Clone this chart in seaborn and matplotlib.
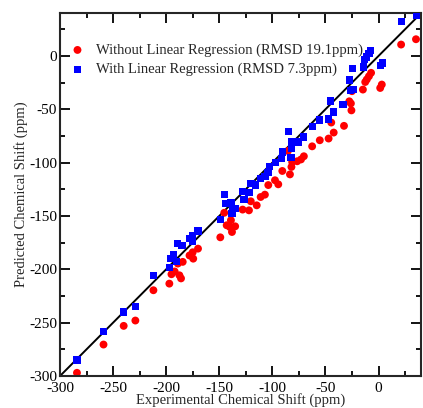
import numpy as np
import pandas as pd
import matplotlib
matplotlib.use("Agg")
import matplotlib.pyplot as plt
import seaborn as sns

# ---------------------------------------------------------------
# dati (ppm)
# ---------------------------------------------------------------
exp_without = [-284, -259, -240, -229, -212, -197, -195, -192, -187.5, -186,
               -189, -184.4, -178, -175, -174.5, -170, -149, -145.3, -139, -143,
               -140, -135, -138, -128, -122, -120.3, -114.7, -111, -107, -103.8,
               -97.5, -94.4, -85.3, -81.3, -76.6, -73, -70.3, -82, -90.6, -83.4,
               -62.5, -55.3, -47, -42.2, -44.5, -32.5, -27.5, -26, -25.5, -25,
               -14.7, -12.5, -11, -9, -7, 1.6, 3.1, 21.3, 35.3]
pred_without = [-297, -270.5, -253, -248, -219.6, -213.4, -204.6, -202, -205.6, -208.5,
                -194.6, -193, -187, -184, -190, -180.6, -170, -147, -154, -158.7,
                -160.3, -159.7, -165, -144, -144.7, -136.2, -140, -132.2, -130, -121,
                -116.5, -120.3, -89, -99.4, -98.7, -97, -94, -104, -107.8, -111,
                -84.7, -79, -77.4, -71.8, -62.4, -65.5, -42.5, -44.5, -51, -33,
                -31.5, -24.4, -22, -19, -15.8, -30, -26.8, 10.7, 15.7]

exp_with = [-284, -259, -240, -229, -212, -197, -196, -193, -190, -189,
            -185, -178, -175, -175, -170, -149, -145, -144, -139, -137.5,
            -134.4, -138, -128, -126.6, -122, -120, -115.6, -111, -107, -103,
            -104, -97, -90.5, -91, -82, -82.5, -85, -81.5, -75, -70.3,
            -62.5, -55.5, -47, -42.5, -45, -33.5, -27.5, -26.6, -24, -24.2,
            -14, -13.1, -11, -9, -7.5, 1.6, 3.5, 21.3, 36]
pred_with = [-285, -258, -240, -235, -206, -198, -190, -186, -193, -176,
             -178, -171, -168, -174, -164, -153, -130, -138, -137, -143,
             -143, -148, -127, -134.6, -128, -119.6, -121, -115, -113, -103.4,
             -109, -100, -90, -96, -87, -95, -70.6, -80.5, -80.6, -76,
             -66, -60, -59, -52.5, -42.2, -45.5, -22.5, -32, -31.5, -11.8,
             -10.3, -3, -0.9, 2.5, 5.3, -9, -6.5, 32.5, 38]

lbl_without = "Without Linear Regression (RMSD 19.1ppm)"
lbl_with    = "With Linear Regression (RMSD 7.3ppm)"

df_without = pd.DataFrame({"exp": exp_without, "pred": pred_without})
df_with    = pd.DataFrame({"exp": exp_with, "pred": pred_with})
diag = pd.DataFrame({"x": [-300, 40], "y": [-300, 40]})

# ---------------------------------------------------------------
# stile
# ---------------------------------------------------------------
sns.set_style("ticks")
plt.rcParams["font.family"] = ["Liberation Serif", "DejaVu Serif"]
plt.rcParams["axes.unicode_minus"] = False

fig = plt.figure(figsize=(4.23, 4.08), dpi=100)
ax = fig.add_axes([0.1418, 0.0784, 0.8534, 0.889])

sns.lineplot(data=diag, x="x", y="y", color="black", lw=1.4, ax=ax, zorder=1)
sns.scatterplot(data=df_without, x="exp", y="pred", color="#ff0000", marker="o",
                s=32, edgecolor="none", label=lbl_without, ax=ax, zorder=2)
sns.scatterplot(data=df_with, x="exp", y="pred", color="#0000ff", marker="s",
                s=27, edgecolor="none", label=lbl_with, ax=ax, zorder=3)

ax.set_xlim(-300, 40)
ax.set_ylim(-300, 40)
ax.set_xticks(np.arange(-300, 1, 50))
ax.set_yticks(np.arange(-300, 1, 50))
ax.set_xticks(np.arange(-300, 40, 25), minor=True)
ax.set_yticks(np.arange(-300, 40, 25), minor=True)
ax.tick_params(which="both", direction="in", top=True, right=True,
               labelsize=11, width=1.3, colors="black")
ax.tick_params(which="major", length=7, pad=2)
ax.tick_params(axis="x", which="major", pad=4)
ax.tick_params(which="minor", length=3.5)
for sp in ax.spines.values():
    sp.set_linewidth(1.5)
    sp.set_visible(True)

ax.set_xlabel("Experimental Chemical Shift (ppm)", fontsize=10.5, labelpad=-1)
ax.set_ylabel("Predicted Chemical Shift (ppm)", fontsize=10.5, labelpad=1)

ax.legend(loc="upper left", frameon=False, fontsize=10.5, handletextpad=0.8,
          borderaxespad=0.3, labelspacing=0.4, handlelength=1.0,
          bbox_to_anchor=(0.0, 0.945))

fig.savefig("out.png", dpi=100)
